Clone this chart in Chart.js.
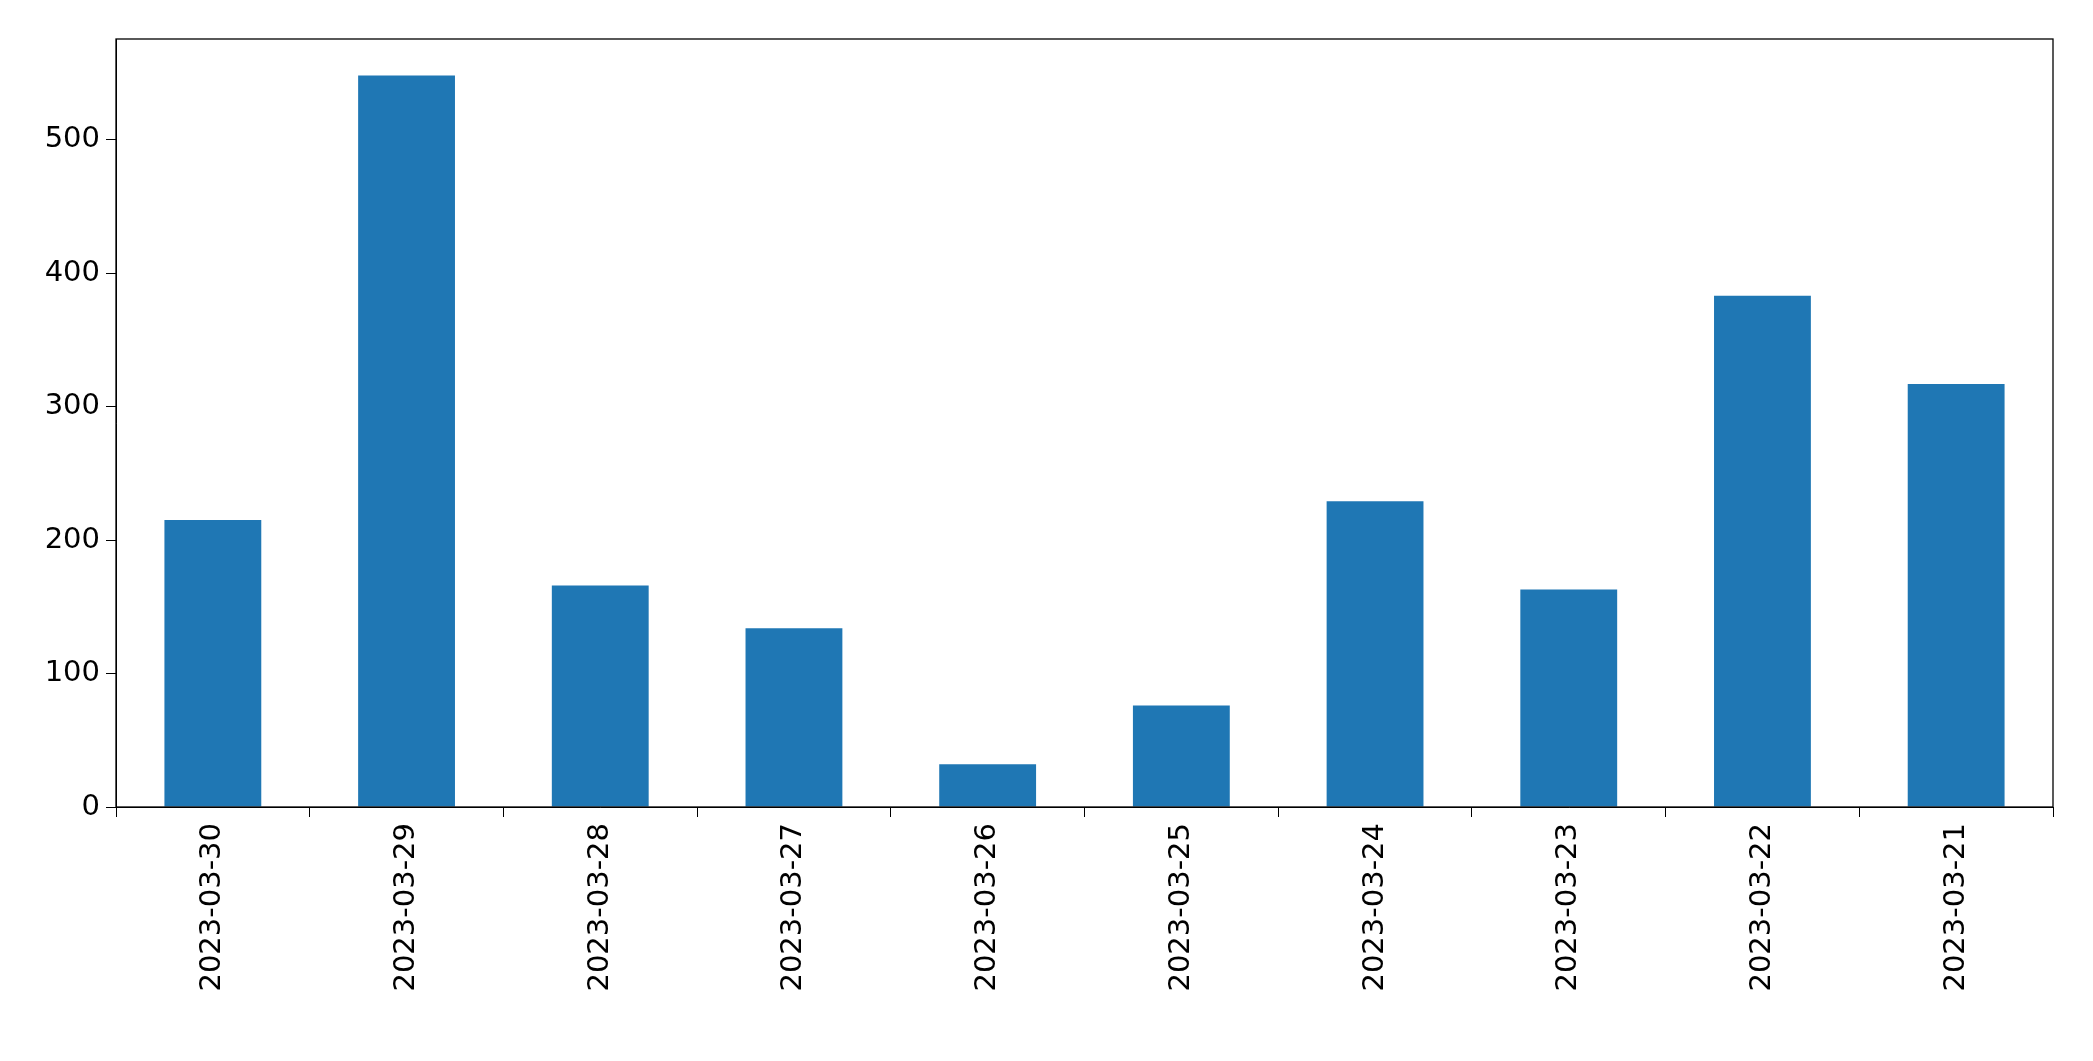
<!DOCTYPE html>
<html><head><meta charset="utf-8">
<script src="https://cdn.jsdelivr.net/npm/chart.js@4"></script>
<style>html,body{margin:0;background:#fff}#w{width:2093px;height:1061px}</style>
</head><body><div id="w"><canvas id="c"></canvas></div>
<script>
const categories=["2023-03-30","2023-03-29","2023-03-28","2023-03-27","2023-03-26","2023-03-25","2023-03-24","2023-03-23","2023-03-22","2023-03-21"];
const values=[215,548,166,134,32,76,229,163,383,317];
const yTicks=[0,100,200,300,400,500];
const frame={id:'frame',afterDraw(ch){const a=ch.chartArea,x=ch.ctx;x.save();x.strokeStyle='#000';x.lineWidth=1.3;x.strokeRect(a.left,a.top,a.right-a.left,a.bottom-a.top);x.restore();}};
new Chart(document.getElementById('c'),{type:'bar',
data:{labels:categories,datasets:[{data:values,backgroundColor:'#1f77b4',categoryPercentage:1,barPercentage:0.5}]},
options:{responsive:true,maintainAspectRatio:false,animation:false,
layout:{padding:{top:39,right:40,left:0,bottom:0}},
plugins:{legend:{display:false},tooltip:{enabled:false}},
scales:{
x:{grid:{drawOnChartArea:false,tickLength:10,color:'#000'},border:{color:'#000'},
ticks:{color:'#000',font:{family:'DejaVu Sans',size:29},maxRotation:90,minRotation:90,padding:6},
afterFit(s){s.height=254;}},
y:{min:0,max:575.4,grid:{drawOnChartArea:false,tickLength:10,color:'#000'},border:{color:'#000'},
afterBuildTicks(s){s.ticks=yTicks.map(v=>({value:v}));},
ticks:{color:'#000',font:{family:'DejaVu Sans',size:29},padding:6},
afterFit(s){s.width=116;}}}},
plugins:[frame]});
</script></body></html>
